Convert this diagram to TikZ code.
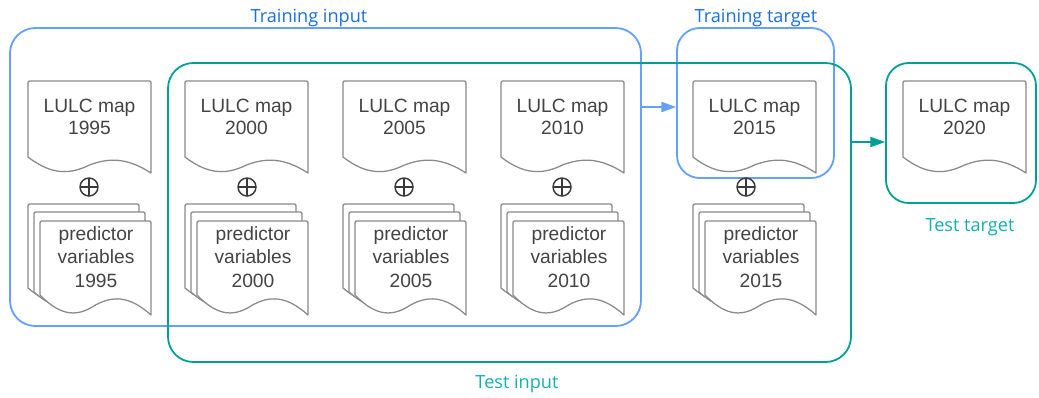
\documentclass[tikz,border=0pt]{standalone}
\usepackage{fontspec}
\usetikzlibrary{fit,arrows.meta}
\newfontfamily\lsans{Liberation Sans}
\newfontfamily\osans{Open Sans}
\definecolor{bline}{HTML}{64A0FF}
\definecolor{blbl}{HTML}{196EE6}
\definecolor{tline}{HTML}{00A096}
\definecolor{tlbl}{HTML}{14AFAF}
\definecolor{dline}{HTML}{8A8A8A}
\definecolor{dtext}{HTML}{444444}
\definecolor{opcol}{HTML}{3A3A3A}
\tikzset{
  docline/.style={draw=dline, line width=0.95pt, fill=white, line join=round},
  doctext/.style={text=dtext, font=\lsans\fontsize{14.4}{16.8}\selectfont, align=center, inner sep=0},
  pvtext/.style={text=dtext, font=\lsans\fontsize{14.4}{17.6}\selectfont, align=center, inner sep=0},
  bluebox/.style={draw=bline, line width=1.35pt, rounded corners=#1, inner sep=0},
  tealbox/.style={draw=tline, line width=1.35pt, rounded corners=#1, inner sep=0},
  lbl/.style={font=\osans\fontsize{13.6}{16}\selectfont, inner sep=0},
  oplus/.style={circle, draw=opcol, line width=1.1pt, minimum size=13.5pt, inner sep=0,
    path picture={\draw[opcol, line width=1.1pt] (path picture bounding box.north) -- (path picture bounding box.south) (path picture bounding box.west) -- (path picture bounding box.east);}},
  barrow/.style={draw=bline, line width=1.35pt, -{Triangle[length=11pt,width=7.5pt]}},
  tarrow/.style={draw=tline, line width=1.35pt, -{Triangle[length=11pt,width=7.5pt]}},
}
% L, T, W, side height, total height
\newcommand\docshape[5]{%
 \draw[docline] (#1,{#2+#4}) -- (#1,{#2+4}) .. controls (#1,#2) .. ({#1+4},#2) -- ({#1+#3-4},#2) .. controls ({#1+#3},#2) .. ({#1+#3},{#2+4}) -- ({#1+#3},{#2+#5}) .. controls ({#1+0.8*#3},{#2+#4}) and ({#1+0.65*#3},{#2+#4+1}) .. ({#1+0.5*#3},{#2+(#4+#5)/2}) .. controls ({#1+0.35*#3},{#2+#5+1}) and ({#1+0.2*#3},{#2+#5+3}) .. (#1,{#2+#4}) -- cycle;}
\begin{document}
\begin{tikzpicture}[x=0.75pt,y=-0.75pt]
\fill[white] (0,0) rectangle (1039,397);
\useasboundingbox (0,0) rectangle (1039,397);
% boxes
\node[bluebox=19pt, fit={(10,28) (641,326)}] (trin) {};
\node[bluebox=17pt, fit={(677,28) (834,178)}] (trtg) {};
\node[tealbox=19pt, fit={(168,63) (851,362)}] (tein) {};
\node[tealbox=17pt, fit={(886,63) (1036,203)}] (tetg) {};
% labels
\node[lbl, text=blbl] (trinlbl) at (309,18) {Training input};
\node[lbl, text=blbl] (trtglbl) at (756,18) {Training target};
\node[lbl, text=tlbl] (teinlbl) at (517,384) {Test input};
\node[lbl, text=tlbl] (tetglbl) at (970,227) {Test target};
% columns
\foreach \yr/\L/\ox in {1995/28/89, 2000/185/247, 2005/343/404, 2010/501/562, 2015/693/746} {
  \docshape{\L}{81}{123}{76}{92}
  \node[doctext] (map\yr) at ({\L+61.5},117) {LULC map\\\yr};
  \node[oplus] (op\yr) at (\ox,187) {};
  \docshape{\L}{204}{111}{84}{100}
  \docshape{\L+6}{212}{111}{80}{97}
  \docshape{\L+12}{221}{111}{74}{94}
  \node[pvtext] (pv\yr) at ({\L+68},257) {predictor\\variables\\\yr};
}
\docshape{903}{81}{123}{76}{92}
\node[doctext] (map2020) at (964.5,117) {LULC map\\2020};
% arrows
\coordinate (ay1) at (0,107);
\coordinate (ay2) at (0,142);
\draw[barrow] (trin.east |- ay1) -- (trtg.west |- ay1);
\draw[tarrow] (tein.east |- ay2) -- (tetg.west |- ay2);
\end{tikzpicture}
\end{document}
